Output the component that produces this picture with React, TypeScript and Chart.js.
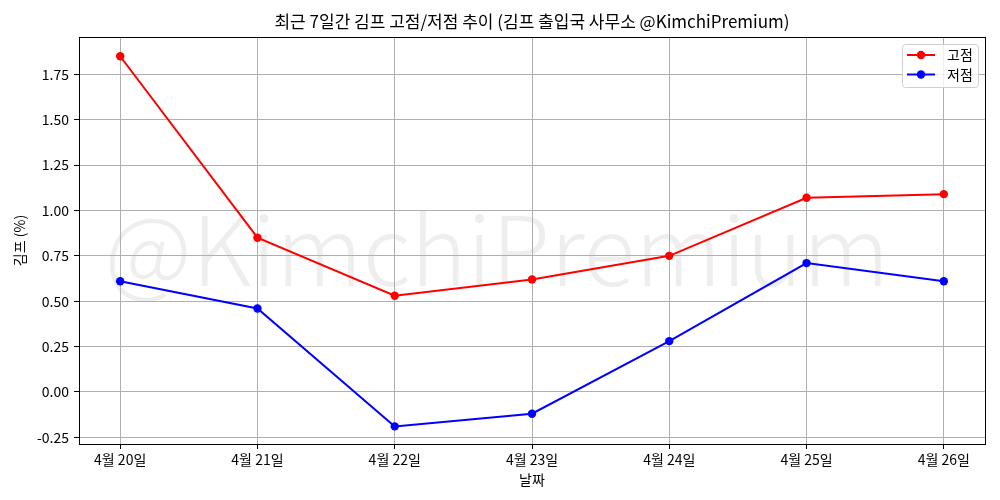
import React, { useEffect, useRef } from "react";
import { Chart, registerables } from "chart.js";

Chart.register(...registerables);

const TITLE = "최근 7일간 김프 고점/저점 추이 (김프 출입국 사무소 @KimchiPremium)";
const WATERMARK = "@KimchiPremium";
const X_TITLE = "날짜";
const Y_TITLE = "김프 (%)";
const dateLabels = ["4월 20일", "4월 21일", "4월 22일", "4월 23일", "4월 24일", "4월 25일", "4월 26일"];
const highLabel = "고점";
const lowLabel = "저점";
const highValues = [1.85, 0.85, 0.53, 0.62, 0.75, 1.07, 1.09];
const lowValues = [0.61, 0.46, -0.19, -0.12, 0.28, 0.71, 0.61];
const yTicks = [-0.25, 0, 0.25, 0.5, 0.75, 1.0, 1.25, 1.5, 1.75];

const FONT = "'Noto Sans CJK KR', 'Noto Sans', sans-serif";

const overlayPlugin = {
  id: "overlay",
  beforeDraw(chart: any) {
    const ctx = chart.ctx;
    ctx.save();
    ctx.fillStyle = "#ffffff";
    ctx.fillRect(0, 0, chart.width, chart.height);
    // watermark
    ctx.font = `300 100px ${FONT}`;
    const w = ctx.measureText(WATERMARK).width;
    const size = (100 * 785) / w;
    ctx.font = `300 ${size}px ${FONT}`;
    ctx.fillStyle = "rgba(200,200,200,0.3)";
    ctx.textAlign = "center";
    ctx.textBaseline = "middle";
    ctx.fillText(WATERMARK, 497, 250);
    ctx.restore();
  },
  afterDatasetsDraw(chart: any) {
    const ctx = chart.ctx;
    const a = chart.chartArea;
    ctx.save();
    // frame
    ctx.strokeStyle = "#000000";
    ctx.lineWidth = 1;
    ctx.strokeRect(Math.round(a.left) + 0.5, Math.round(a.top) + 0.5, Math.round(a.right - a.left), Math.round(a.bottom - a.top));
    // title
    ctx.fillStyle = "#000000";
    ctx.font = `17px ${FONT}`;
    ctx.textAlign = "center";
    ctx.textBaseline = "middle";
    ctx.fillText(TITLE, (a.left + a.right) / 2, 22);
    // legend
    const bx = 902, by = 44, bw = 76, bh = 43;
    ctx.fillStyle = "rgba(255,255,255,0.8)";
    ctx.strokeStyle = "#d0d0d0";
    ctx.beginPath();
    ctx.roundRect(bx + 0.5, by + 0.5, bw, bh, 3);
    ctx.fill();
    ctx.stroke();
    const entries = chart.data.datasets.map((d: any) => ({ label: d.label, color: d.borderColor }));
    entries.forEach((e: any, i: number) => {
      const y = 55 + i * 19.5;
      ctx.strokeStyle = e.color;
      ctx.lineWidth = 2;
      ctx.beginPath();
      ctx.moveTo(907, y);
      ctx.lineTo(935, y);
      ctx.stroke();
      ctx.fillStyle = e.color;
      ctx.beginPath();
      ctx.arc(921, y, 4.2, 0, Math.PI * 2);
      ctx.fill();
      ctx.fillStyle = "#000000";
      ctx.font = `14px ${FONT}`;
      ctx.textAlign = "left";
      ctx.textBaseline = "middle";
      ctx.fillText(e.label, 947, y);
    });
    ctx.restore();
  },
};

export default function App() {
  const ref = useRef<HTMLCanvasElement>(null);
  useEffect(() => {
    if (!ref.current) return;
    const mk = (vals: number[]) => vals.map((v, i) => ({ x: i, y: v }));
    const chart = new Chart(ref.current, {
      type: "line",
      data: {
        datasets: [
          {
            label: highLabel,
            data: mk(highValues),
            borderColor: "#ff0000",
            backgroundColor: "#ff0000",
            borderWidth: 2,
            pointRadius: 4.2,
            pointHoverRadius: 4.2,
            pointBorderWidth: 0,
            tension: 0,
          },
          {
            label: lowLabel,
            data: mk(lowValues),
            borderColor: "#0000ff",
            backgroundColor: "#0000ff",
            borderWidth: 2,
            pointRadius: 4.2,
            pointHoverRadius: 4.2,
            pointBorderWidth: 0,
            tension: 0,
          },
        ],
      },
      options: {
        animation: false,
        responsive: false,
        maintainAspectRatio: false,
        layout: { padding: { left: 0, right: 15, top: 37, bottom: 0 } },
        plugins: {
          legend: { display: false },
          title: { display: false },
          tooltip: { enabled: false },
        },
        scales: {
          x: {
            type: "linear",
            min: -0.3,
            max: 6.3,
            afterBuildTicks: (s: any) => {
              s.ticks = dateLabels.map((_, i) => ({ value: i }));
            },
            afterFit: (s: any) => {
              s.height = 56;
            },
            ticks: {
              color: "#000000",
              font: { family: FONT, size: 14 },
              padding: 2,
              maxRotation: 0,
              autoSkip: false,
              callback: (v: any) => dateLabels[Math.round(Number(v))] ?? "",
            },
            grid: { color: "#b0b0b0", lineWidth: 1, tickLength: 5, tickColor: "#000000" },
            border: { color: "#000000", width: 1 },
            title: {
              display: true,
              text: X_TITLE,
              color: "#000000",
              font: { family: FONT, size: 14 },
              padding: { top: 0, bottom: 12 },
            },
          },
          y: {
            type: "linear",
            min: -0.287,
            max: 1.956,
            afterBuildTicks: (s: any) => {
              s.ticks = yTicks.map((v) => ({ value: v }));
            },
            afterFit: (s: any) => {
              s.width = 79;
            },
            ticks: {
              color: "#000000",
              font: { family: FONT, size: 14 },
              padding: 5,
              callback: (v: any) => Number(v).toFixed(2),
            },
            grid: { color: "#b0b0b0", lineWidth: 1, tickLength: 5, tickColor: "#000000" },
            border: { color: "#000000", width: 1 },
            title: {
              display: true,
              text: Y_TITLE,
              color: "#000000",
              font: { family: FONT, size: 14 },
              padding: { top: 11, bottom: 0 },
            },
          },
        },
      },
      plugins: [overlayPlugin],
    });
    return () => chart.destroy();
  }, []);
  return (
    <div style={{ position: "absolute", left: 0, top: 0, width: 1000, height: 500 }}>
      <canvas ref={ref} width={1000} height={500} style={{ display: "block" }} />
    </div>
  );
}
